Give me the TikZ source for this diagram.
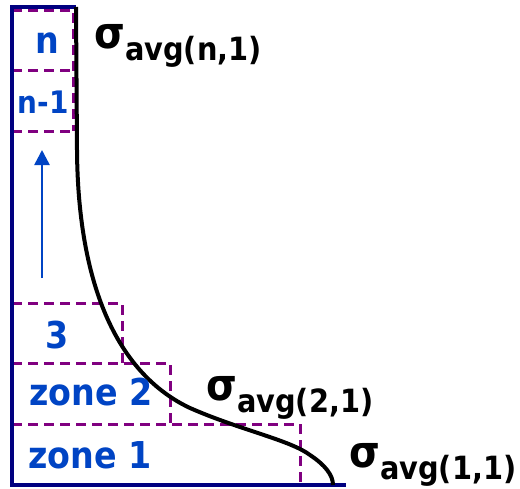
\documentclass[tikz,border=0pt]{standalone}
\usepackage{fontspec}
\setmainfont{DejaVu Sans}[FakeStretch=0.9]
\usetikzlibrary{arrows.meta}
\definecolor{axisblue}{RGB}{0,0,128}
\definecolor{zoneblue}{RGB}{0,68,196}
\definecolor{dashpurple}{RGB}{128,0,128}
\tikzstyle{axis}=[draw=axisblue, line width=4pt]
\tikzstyle{zonebox}=[draw=dashpurple, line width=3pt, dash pattern=on 10pt off 6pt]
\tikzstyle{zonelabel}=[text=zoneblue, font=\bfseries\fontsize{37}{37}\selectfont, inner sep=0pt, anchor=base]
\tikzstyle{stresslabel}=[inner sep=0pt, anchor=base west, font=\bfseries]
\tikzstyle{curve}=[line width=4pt, black]
\newcommand{\sigavg}[1]{{\fontsize{44}{44}\selectfont σ}\raisebox{-12pt}{\fontsize{32}{32}\selectfont avg(#1)}}

\begin{document}
\begin{tikzpicture}[x=1pt,y=-1pt]
				\useasboundingbox (0,0) rectangle (520,488);
				
				% zones
				\draw[zonebox] (12,10) -- (73,10) -- (73,131);
				\draw[zonebox] (12,70) -- (73,70);
				\draw[zonebox] (12,131) -- (73,131);
				\draw[zonebox] (12,303) -- (122,303) -- (122,363);
				\draw[zonebox] (12,363) -- (170,363) -- (170,424);
				\draw[zonebox] (12,424) -- (300,424) -- (300,483);
				
				% axes
				\draw[axis] (76,7) -- (12,7) -- (12,485) -- (346,485);
				
				% stress curve
				\draw[curve] (76,7) -- (77,150) .. controls (78,290) and (120,375) .. (190,408) .. controls (240,430) and (290,440) .. (310,455) .. controls (325,465) and (333,475) .. (333,485);
				
				\node[zonelabel] (zn) at (47,53) {n};
				\node[zonelabel, font=\bfseries\fontsize{31}{31}\selectfont] (zn1) at (43,113) {n-1};
				\node[zonelabel] (z3) at (57,348) {3};
				\node[zonelabel] (z2) at (91,405) {zone 2};
				\node[zonelabel] (z1) at (90,468) {zone 1};
				
				\coordinate (up1) at (42,278);
				\coordinate (up2) at (42,150);
				\draw[zoneblue, line width=2.5pt, -{Triangle[width=15pt,length=15pt]}] (up1) -- (up2);
				
				\node[stresslabel] (sn) at (94,48) {\sigavg{n,1}};
				\node[stresslabel] (s2) at (206,400) {\sigavg{2,1}};
				\node[stresslabel] (s1) at (349,467) {\sigavg{1,1}};
			\end{tikzpicture}
\end{document}
